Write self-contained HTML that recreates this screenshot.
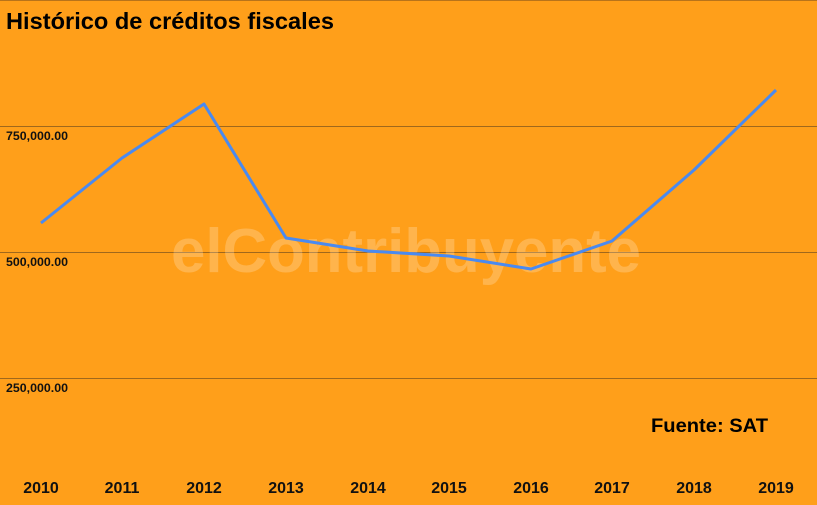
<!DOCTYPE html>
<html><head><meta charset="utf-8"><style>
html,body{margin:0;padding:0;background:#FF9F1A;}
svg{display:block}
</style></head><body>
<svg width="817" height="505" viewBox="0 0 817 505" xmlns="http://www.w3.org/2000/svg">
<rect width="817" height="505" fill="#FF9F1A"/>
<line x1="0" y1="0.5" x2="817" y2="0.5" stroke="#B8731A" stroke-width="1"/>
<text x="6" y="29" font-family="Liberation Sans, sans-serif" font-weight="bold" font-size="23" fill="#000" textLength="328" lengthAdjust="spacingAndGlyphs">Histórico de créditos fiscales</text>
<g stroke="#A0681C" stroke-width="1">
<line x1="0" y1="126.5" x2="817" y2="126.5"/>
<line x1="0" y1="252.5" x2="817" y2="252.5"/>
<line x1="0" y1="378.5" x2="817" y2="378.5"/>
</g>
<g font-family="Liberation Sans, sans-serif" font-weight="bold" font-size="11.5" fill="#111">
<text x="6" y="140" textLength="62" lengthAdjust="spacingAndGlyphs">750,000.00</text>
<text x="6" y="266" textLength="62" lengthAdjust="spacingAndGlyphs">500,000.00</text>
<text x="6" y="392" textLength="62" lengthAdjust="spacingAndGlyphs">250,000.00</text>
</g>
<text x="406" y="272" text-anchor="middle" font-family="Liberation Sans, sans-serif" font-weight="bold" font-size="62" fill="#ffffff" fill-opacity="0.22" textLength="470" lengthAdjust="spacingAndGlyphs">elContribuyente</text>
<polyline fill="none" stroke="#4A8AF0" stroke-width="3" stroke-linejoin="round" points="41,223 122,158 204,104 286,238 368,251 449,256 531,269 612,241 694,170 776,90"/>
<text x="651" y="432" font-family="Liberation Sans, sans-serif" font-weight="bold" font-size="19" fill="#000" textLength="117" lengthAdjust="spacingAndGlyphs">Fuente: SAT</text>
<g font-family="Liberation Sans, sans-serif" font-weight="bold" font-size="16" fill="#111" text-anchor="middle">
<text x="41" y="493">2010</text><text x="122" y="493">2011</text><text x="204" y="493">2012</text>
<text x="286" y="493">2013</text><text x="368" y="493">2014</text><text x="449" y="493">2015</text>
<text x="531" y="493">2016</text><text x="612" y="493">2017</text><text x="694" y="493">2018</text>
<text x="776" y="493">2019</text>
</g>
</svg>
</body></html>
